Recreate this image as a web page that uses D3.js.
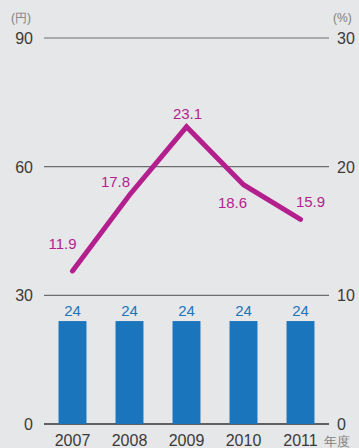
<!DOCTYPE html>
<html>
<head>
<meta charset="utf-8">
<script src="https://cdn.jsdelivr.net/npm/d3@7/dist/d3.min.js"></script>
<style>
  body { margin: 0; background: #e6e7e8; }
  svg { display: block; font-family: "Liberation Sans", Arial, sans-serif; }
</style>
</head>
<body>
<svg id="chart" width="359" height="448"></svg>
<script>
  var years = ["2007", "2008", "2009", "2010", "2011"];
  var dividend = [24, 24, 24, 24, 24];        // 円, left axis
  var payout = [11.9, 17.8, 23.1, 18.6, 15.9]; // %, right axis
  var leftTicks = [0, 30, 60, 90];
  var rightTicks = [0, 10, 20, 30];
  // label offsets for the line values [dx, dy]
  var labelPos = [[-10, -22], [-14, -8], [1, -8], [-11, 23], [10, -12]];

  var svg = d3.select("#chart");
  var x0 = 44, x1 = 329, yBase = 424, yTop = 38;

  var x = d3.scaleBand().domain(years).range([x0, x1]).paddingInner(0.51).paddingOuter(0.255);
  var yL = d3.scaleLinear().domain([0, 90]).range([yBase, yTop]);
  var yR = d3.scaleLinear().domain([0, 30]).range([yBase, yTop]);

  // gridlines
  svg.append("g").selectAll("line")
    .data(leftTicks)
    .enter().append("line")
    .attr("x1", x0).attr("x2", x1)
    .attr("y1", function(d) { return yL(d); })
    .attr("y2", function(d) { return yL(d); })
    .attr("stroke", function(d) { return d == 0 ? "#333" : "#6d6e70"; })
    .attr("stroke-width", function(d) { return d == 0 ? 1.6 : 1.2; });

  // left tick labels
  svg.append("g").selectAll("text")
    .data(leftTicks)
    .enter().append("text")
    .attr("x", 33).attr("y", function(d) { return yL(d) + 6; })
    .attr("text-anchor", "end")
    .attr("font-size", 16).attr("fill", "#3a3a3a")
    .text(function(d) { return d; });

  // right tick labels
  svg.append("g").selectAll("text")
    .data(rightTicks)
    .enter().append("text")
    .attr("x", 337).attr("y", function(d) { return yR(d) + 6; })
    .attr("font-size", 16).attr("fill", "#3a3a3a")
    .text(function(d) { return d; });

  svg.append("text").attr("x", 11).attr("y", 22)
    .attr("font-size", 12).attr("fill", "#808080").text("(円)");
  svg.append("text").attr("x", 333).attr("y", 22)
    .attr("font-size", 12).attr("fill", "#808080").text("(%)");

  // bars
  svg.append("g").selectAll("rect")
    .data(dividend)
    .enter().append("rect")
    .attr("x", function(d, i) { return x(years[i]); })
    .attr("y", function(d) { return yL(d); })
    .attr("width", x.bandwidth())
    .attr("height", function(d) { return yBase - yL(d); })
    .attr("fill", "#1b75bc");

  svg.append("g").selectAll("text")
    .data(dividend)
    .enter().append("text")
    .attr("x", function(d, i) { return x(years[i]) + x.bandwidth() / 2; })
    .attr("y", function(d) { return yL(d) - 5; })
    .attr("text-anchor", "middle")
    .attr("font-size", 15).attr("fill", "#1b75bc")
    .text(function(d) { return d; });

  // line
  var line = d3.line()
    .x(function(d, i) { return x(years[i]) + x.bandwidth() / 2; })
    .y(function(d) { return yR(d); });

  svg.append("path")
    .datum(payout)
    .attr("d", line)
    .attr("fill", "none")
    .attr("stroke", "#b41f8e")
    .attr("stroke-width", 5)
    .attr("stroke-linejoin", "miter")
    .attr("stroke-linecap", "round");

  svg.append("g").selectAll("text")
    .data(payout)
    .enter().append("text")
    .attr("x", function(d, i) { return x(years[i]) + x.bandwidth() / 2 + labelPos[i][0]; })
    .attr("y", function(d, i) { return yR(d) + labelPos[i][1]; })
    .attr("text-anchor", "middle")
    .attr("font-size", 15).attr("fill", "#b41f8e")
    .text(function(d) { return d.toFixed(1); });

  // x labels
  svg.append("g").selectAll("text")
    .data(years)
    .enter().append("text")
    .attr("x", function(d) { return x(d) + x.bandwidth() / 2; })
    .attr("y", 446)
    .attr("text-anchor", "middle")
    .attr("font-size", 16).attr("fill", "#3a3a3a")
    .text(function(d) { return d; });

  svg.append("text").attr("x", 324).attr("y", 446)
    .attr("font-size", 13).attr("fill", "#808080").text("年度");
</script>
</body>
</html>
